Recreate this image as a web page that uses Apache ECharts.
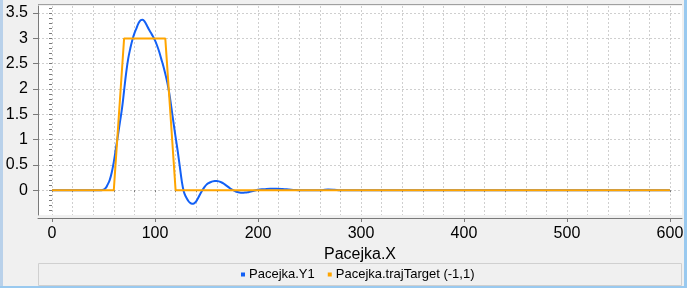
<!DOCTYPE html>
<html style="height: 100%">
<head>
    <meta charset="UTF-8">
    <title>Pacejka</title>
</head>
<body style="height: 100%; margin: 0; background: #f0f0f0">
<div id="container" style="width: 687px; height: 288px"></div>

<script type="text/javascript" src="https://cdn.jsdelivr.net/npm/echarts@6/dist/echarts.min.js"></script>
<script type="text/javascript">
    // Pacejka.Y1
    var y1X = [0, 46, 48, 50, 52, 54, 56, 58, 60, 62, 64, 66, 68, 70, 72, 74, 76, 78, 80, 82, 84, 86,
        88, 90, 92, 94, 96, 98, 100, 102, 104, 106, 108, 110, 112, 114, 116, 118, 120, 122, 124, 126,
        128, 130, 132, 134, 136, 138, 140, 142, 144, 146, 148, 150, 152, 154, 156, 158, 160, 162, 164,
        166, 168, 170, 172, 174, 176, 178, 180, 182, 184, 186, 188, 190, 192, 194, 196, 198, 200,
        206, 212, 218, 224, 230, 236, 242, 262, 268, 274, 280, 600];
    var y1Y = [0, 0, 0, 0.01, 0.04, 0.11, 0.2, 0.35, 0.56, 0.82, 1.08, 1.35, 1.62, 1.97, 2.32, 2.6,
        2.8, 2.97, 3.1, 3.2, 3.3, 3.36, 3.37, 3.33, 3.26, 3.18, 3.11, 3.04, 2.96, 2.86, 2.74, 2.6,
        2.46, 2.3, 2.12, 1.9, 1.62, 1.33, 1.05, 0.78, 0.48, 0.18, -0.03, -0.13, -0.2, -0.25, -0.27,
        -0.26, -0.22, -0.15, -0.07, 0, 0.06, 0.11, 0.14, 0.16, 0.175, 0.18, 0.18, 0.175, 0.16, 0.14,
        0.11, 0.08, 0.05, 0.02, 0, -0.02, -0.035, -0.045, -0.05, -0.05, -0.045, -0.04, -0.03, -0.02,
        -0.01, 0, 0.01, 0.02, 0.03, 0.03, 0.025, 0.015, 0.005, 0, 0, 0.015, 0.01, 0, 0];

    // Pacejka.trajTarget (-1,1)
    var targetX = [0, 60, 70, 110, 120, 600];
    var targetY = [0, 0, 3, 3, 0, 0];

    // ticks
    var xLabels = [0, 100, 200, 300, 400, 500, 600];
    var xMinor = [0, 20, 40, 60, 80, 100, 120, 140, 160, 180, 200, 220, 240, 260, 280, 300,
        320, 340, 360, 380, 400, 420, 440, 460, 480, 500, 520, 540, 560, 580, 600];
    var yLabels = [0, 0.5, 1, 1.5, 2, 2.5, 3, 3.5];
    var yMinor = [-0.4, -0.3, -0.2, -0.1, 0, 0.1, 0.2, 0.3, 0.4, 0.5, 0.6, 0.7, 0.8, 0.9, 1, 1.1,
        1.2, 1.3, 1.4, 1.5, 1.6, 1.7, 1.8, 1.9, 2, 2.1, 2.2, 2.3, 2.4, 2.5, 2.6, 2.7, 2.8, 2.9, 3,
        3.1, 3.2, 3.3, 3.4, 3.5, 3.6];

    function zip(xs, ys) {
        return xs.map(function (x, i) { return [x, ys[i]]; });
    }

    var dom = document.getElementById("container");
    var myChart = echarts.init(dom, null, {renderer: 'canvas'});
    var font = 'Liberation Sans';
    var gridDash = {color: '#cfcfcf', type: [2, 2], width: 1};
    var xMin = -13.6, xMax = 611.7, yMin = -0.49, yMax = 3.64;

    var option = {
        backgroundColor: '#f0f0f0',
        animation: false,
        textStyle: {fontFamily: font},
        grid: {
            left: 38, right: 5, top: 6, bottom: 73,
            show: true, backgroundColor: '#ffffff', borderWidth: 0
        },
        graphic: [
            {type: 'rect', shape: {x: 0, y: 0, width: 3, height: 288}, style: {fill: '#b9d1ea'}},
            {type: 'rect', shape: {x: 684, y: 0, width: 3, height: 288}, style: {fill: '#99c9ef'}},
            {type: 'rect', shape: {x: 0, y: 286, width: 687, height: 2}, style: {fill: '#99c9ef'}},
            {type: 'line', shape: {x1: 38, y1: 4.5, x2: 682, y2: 4.5}, style: {stroke: '#a0a0a0', lineWidth: 1}},
            {type: 'rect', shape: {x: 38.5, y: 263.5, width: 643, height: 22},
                style: {fill: '#f0f0f0', stroke: '#d0d0d0', lineWidth: 1}}
        ],
        legend: {
            left: 241, top: 268,
            padding: 0,
            itemWidth: 4, itemHeight: 4, itemGap: 13,
            icon: 'rect',
            textStyle: {fontFamily: font, fontSize: 13, color: '#000', padding: [0, 0, 0, -1]},
            data: ['Pacejka.Y1', 'Pacejka.trajTarget (-1,1)']
        },
        xAxis: [
            {
                type: 'value', min: xMin, max: xMax, position: 'bottom', offset: 3,
                name: 'Pacejka.X', nameLocation: 'middle', nameGap: 24,
                nameTextStyle: {fontFamily: font, fontSize: 16, color: '#000'},
                axisLine: {show: true, onZero: false, lineStyle: {color: '#7a7a7a'}},
                axisTick: {show: true, length: 4, customValues: xLabels, lineStyle: {color: '#7a7a7a'}},
                axisLabel: {customValues: xLabels, fontFamily: font, fontSize: 16, color: '#000', margin: 8},
                splitLine: {show: false}
            },
            {
                type: 'value', min: xMin, max: xMax, position: 'bottom', offset: 3,
                axisLine: {show: false},
                axisTick: {show: true, length: 2, customValues: xMinor, lineStyle: {color: '#7a7a7a'}},
                axisLabel: {show: false},
                splitLine: {show: true, lineStyle: gridDash}
            }
        ],
        yAxis: [
            {
                type: 'value', min: yMin, max: yMax, position: 'left',
                axisLine: {show: true, onZero: false, lineStyle: {color: '#7a7a7a'}},
                axisTick: {show: true, length: 5, customValues: yLabels, lineStyle: {color: '#7a7a7a'}},
                axisLabel: {customValues: yLabels, fontFamily: font, fontSize: 16, color: '#000', margin: 10},
                splitLine: {show: true, lineStyle: gridDash}
            },
            {
                type: 'value', min: yMin, max: yMax, position: 'left',
                axisLine: {show: false},
                axisTick: {show: true, length: 3, customValues: yMinor, lineStyle: {color: '#7a7a7a'}},
                axisLabel: {show: false},
                splitLine: {show: false}
            }
        ],
        series: [
            {
                name: 'Pacejka.Y1', type: 'line', xAxisIndex: 0, yAxisIndex: 0,
                data: zip(y1X, y1Y),
                smooth: 0.4, showSymbol: false,
                color: '#1360f5',
                lineStyle: {width: 2, color: '#1360f5'}
            },
            {
                name: 'Pacejka.trajTarget (-1,1)', type: 'line', xAxisIndex: 0, yAxisIndex: 0,
                data: zip(targetX, targetY),
                showSymbol: false,
                color: '#ffa500',
                lineStyle: {width: 2, color: '#ffa500'}
            }
        ]
    };

    myChart.setOption(option);
</script>
</body>
</html>
